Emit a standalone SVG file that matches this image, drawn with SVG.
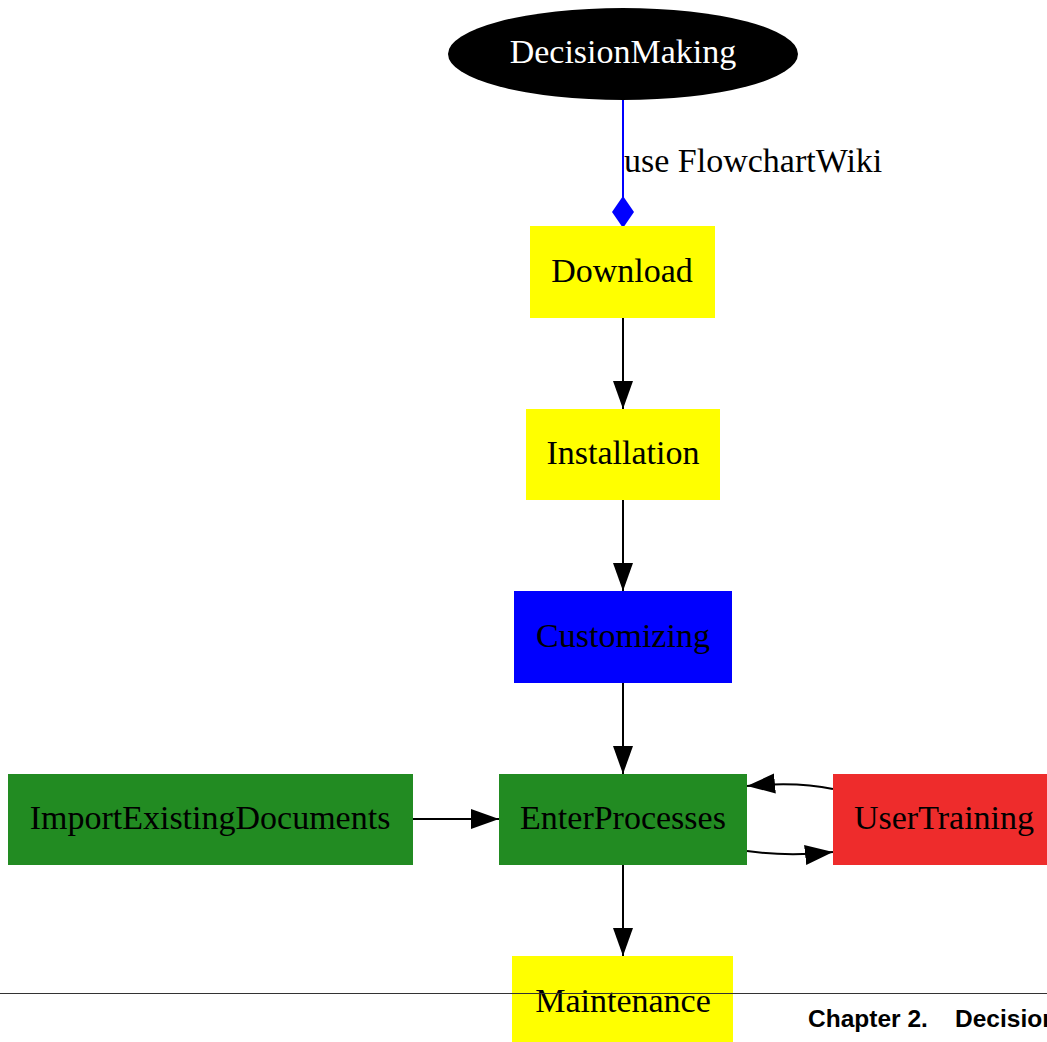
<svg xmlns="http://www.w3.org/2000/svg" width="1047" height="1042" viewBox="0 0 1047 1042">
<style>
.lbl{font-family:"Liberation Serif","Times New Roman",serif;font-size:34px;text-anchor:middle;fill:#000}
.edge{fill:none;stroke:#000;stroke-width:2}
</style>
<defs>
<marker id="arr" markerUnits="userSpaceOnUse" markerWidth="30" markerHeight="22" refX="28" refY="11" orient="auto">
<path d="M0,1 L28,11 L0,21 Z" fill="#000"/>
</marker>
<marker id="dia" markerUnits="userSpaceOnUse" markerWidth="34" markerHeight="24" refX="32" refY="12" orient="auto">
<path d="M0,12 L16,1 L32,12 L16,23 Z" fill="#00f"/>
</marker>
</defs>
<rect width="1047" height="1042" fill="#fff"/>
<g id="connectors">
<path d="M623,100 L623,228" stroke="#00f" stroke-width="2" fill="none" marker-end="url(#dia)"/>
<text x="624" y="172" style="font-family:'Liberation Serif',serif;font-size:34px">use FlowchartWiki</text>
<path class="edge" d="M623,318 L623,409" marker-end="url(#arr)"/>
<path class="edge" d="M623,500 L623,591" marker-end="url(#arr)"/>
<path class="edge" d="M623,683 L623,774" marker-end="url(#arr)"/>
<path class="edge" d="M413,819 L499,819" marker-end="url(#arr)"/>
<path class="edge" d="M833,789 C810,784 780,783 747,786" marker-end="url(#arr)"/>
<path class="edge" d="M747,851 C775,855 805,855 833,852" marker-end="url(#arr)"/>
<path class="edge" d="M623,865 L623,956" marker-end="url(#arr)"/>
</g>
<g id="DecisionMaking">
<ellipse cx="623" cy="54" rx="175" ry="46" fill="#000"/>
<text class="lbl" x="623" y="63" style="fill:#fff">DecisionMaking</text>
</g>
<g id="Download">
<rect x="530" y="226" width="185" height="92" fill="#ff0"/>
<text class="lbl" x="622" y="282">Download</text>
</g>
<g id="Installation">
<rect x="526" y="409" width="194" height="91" fill="#ff0"/>
<text class="lbl" x="623" y="464">Installation</text>
</g>
<g id="Customizing">
<rect x="514" y="591" width="218" height="92" fill="#00f"/>
<text class="lbl" x="623" y="647">Customizing</text>
</g>
<g id="EnterProcesses">
<rect x="499" y="774" width="248" height="91" fill="#228b22"/>
<text class="lbl" x="623" y="829">EnterProcesses</text>
</g>
<g id="ImportExistingDocuments">
<rect x="8" y="774" width="405" height="91" fill="#228b22"/>
<text class="lbl" x="210" y="829">ImportExistingDocuments</text>
</g>
<g id="UserTraining">
<rect x="833" y="774" width="220" height="91" fill="#ee2c2c"/>
<text class="lbl" x="944" y="829">UserTraining</text>
</g>
<g id="Maintenance">
<rect x="512" y="956" width="221" height="92" fill="#ff0"/>
<text class="lbl" x="623" y="1012">Maintenance</text>
</g>
<line x1="0" y1="993.5" x2="1047" y2="993.5" stroke="#333" stroke-width="1"/>
<text x="808" y="1027" style="font-family:'Liberation Sans',Arial,sans-serif;font-size:24.5px;font-weight:bold">Chapter 2.<tspan x="955">Decision</tspan></text>
</svg>
